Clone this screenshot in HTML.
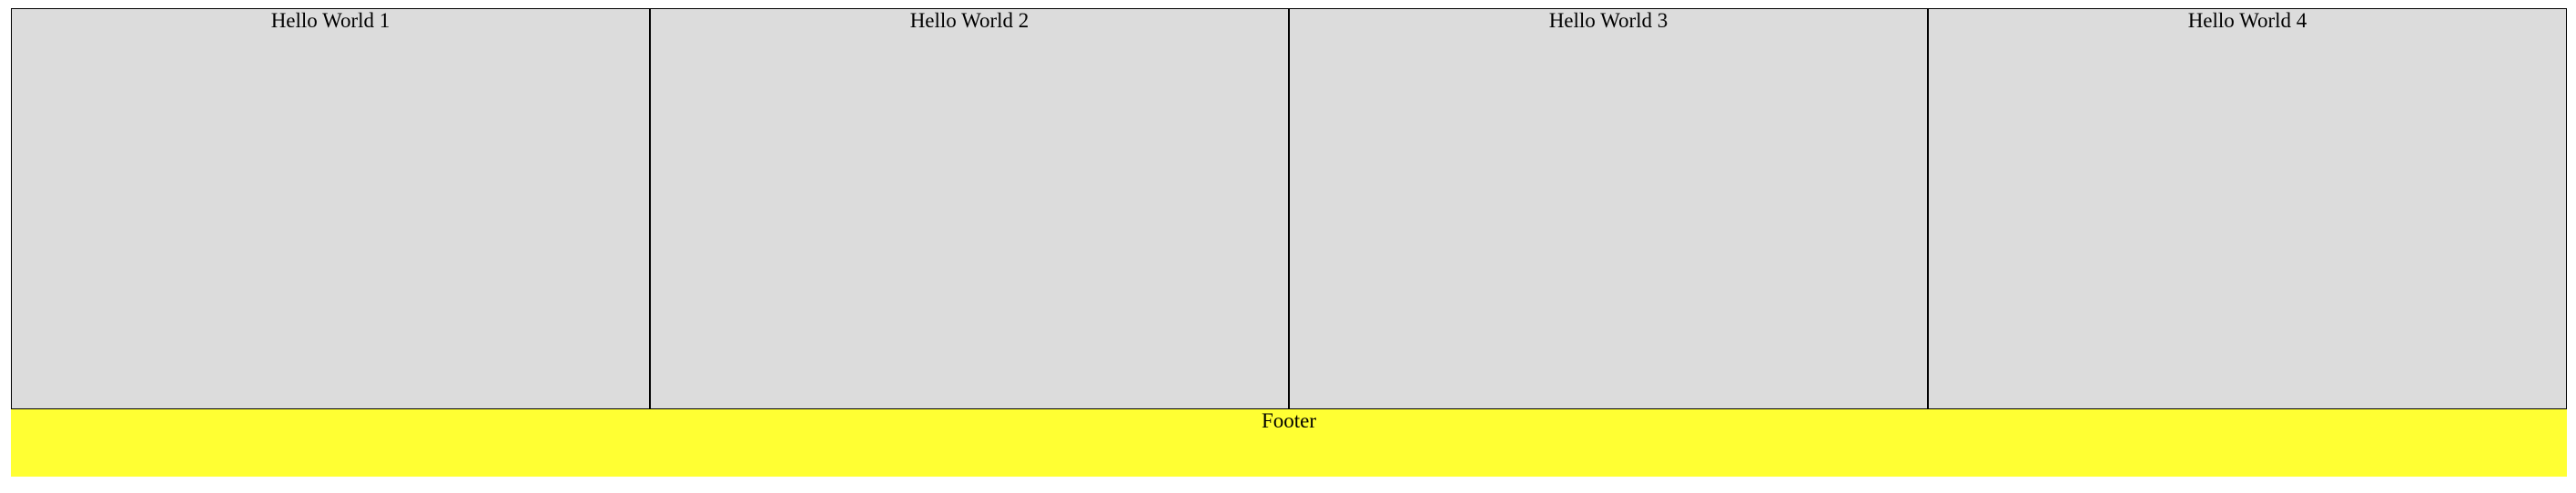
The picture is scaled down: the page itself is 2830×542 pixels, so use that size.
<!DOCTYPE html>
<html><head><meta charset="utf-8"><style>
body{margin:0;width:2830px;height:542px;background:#fff;font-family:"Liberation Serif",serif;font-size:23px;color:#000;position:relative;overflow:hidden}
.col{position:absolute;top:9px;height:439px;width:700px;background:#dcdcdc;border:1px solid #000;text-align:center;line-height:26px}
#footer{position:absolute;left:12px;top:450px;width:2808px;height:74px;background:#ffff33;text-align:center;line-height:26px}
</style></head><body>
<div class="col" style="left:12px">Hello World 1</div>
<div class="col" style="left:714px">Hello World 2</div>
<div class="col" style="left:1416px">Hello World 3</div>
<div class="col" style="left:2118px">Hello World 4</div>
<div id="footer">Footer</div>
</body></html>
